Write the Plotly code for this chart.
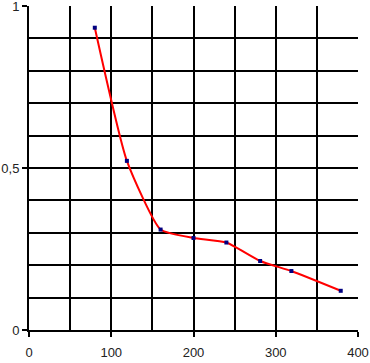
import plotly.graph_objects as go

x_vals = [80, 119, 160, 200, 240, 281, 319, 379]
y_vals = [0.933, 0.522, 0.31, 0.284, 0.27, 0.213, 0.182, 0.121]

x_ticks = [0, 100, 200, 300, 400]
y_ticks = [0, 0.5, 1]
y_tick_text = ["0", "0,5", "1"]

fig = go.Figure()
fig.add_trace(go.Scatter(x=x_vals, y=y_vals, mode="lines",
                         line=dict(color="#ff0000", width=2, shape="spline", smoothing=0.5),
                         hoverinfo="skip", showlegend=False))
fig.add_trace(go.Scatter(x=x_vals, y=y_vals, mode="markers",
                         marker=dict(color="#000080", size=4, symbol="square"),
                         showlegend=False))

axis_common = dict(showline=True, linecolor="black", linewidth=2,
                   showgrid=True, gridcolor="black", gridwidth=2,
                   ticks="outside", ticklen=5, tickwidth=1.5, tickcolor="black",
                   zeroline=False, mirror=False, automargin=False,
                   ticklabeloverflow="allow",
                   tickfont=dict(family="Liberation Sans, Arial", size=13, color="#222222"))

fig.update_xaxes(range=[0, 400], tickvals=x_ticks, ticklabelstandoff=4,
                 minor=dict(dtick=50, tick0=0, showgrid=True, gridcolor="black", gridwidth=2, ticks=""),
                 **axis_common)
fig.update_yaxes(range=[0, 1], tickvals=y_ticks, ticktext=y_tick_text,
                 minor=dict(dtick=0.1, tick0=0, showgrid=True, gridcolor="black", gridwidth=2, ticks=""),
                 **axis_common)

fig.update_layout(template="none", width=370, height=363,
                  margin=dict(l=29, r=12, t=6, b=33),
                  paper_bgcolor="white", plot_bgcolor="white",
                  separators=", ")

fig.write_html("out.html")
